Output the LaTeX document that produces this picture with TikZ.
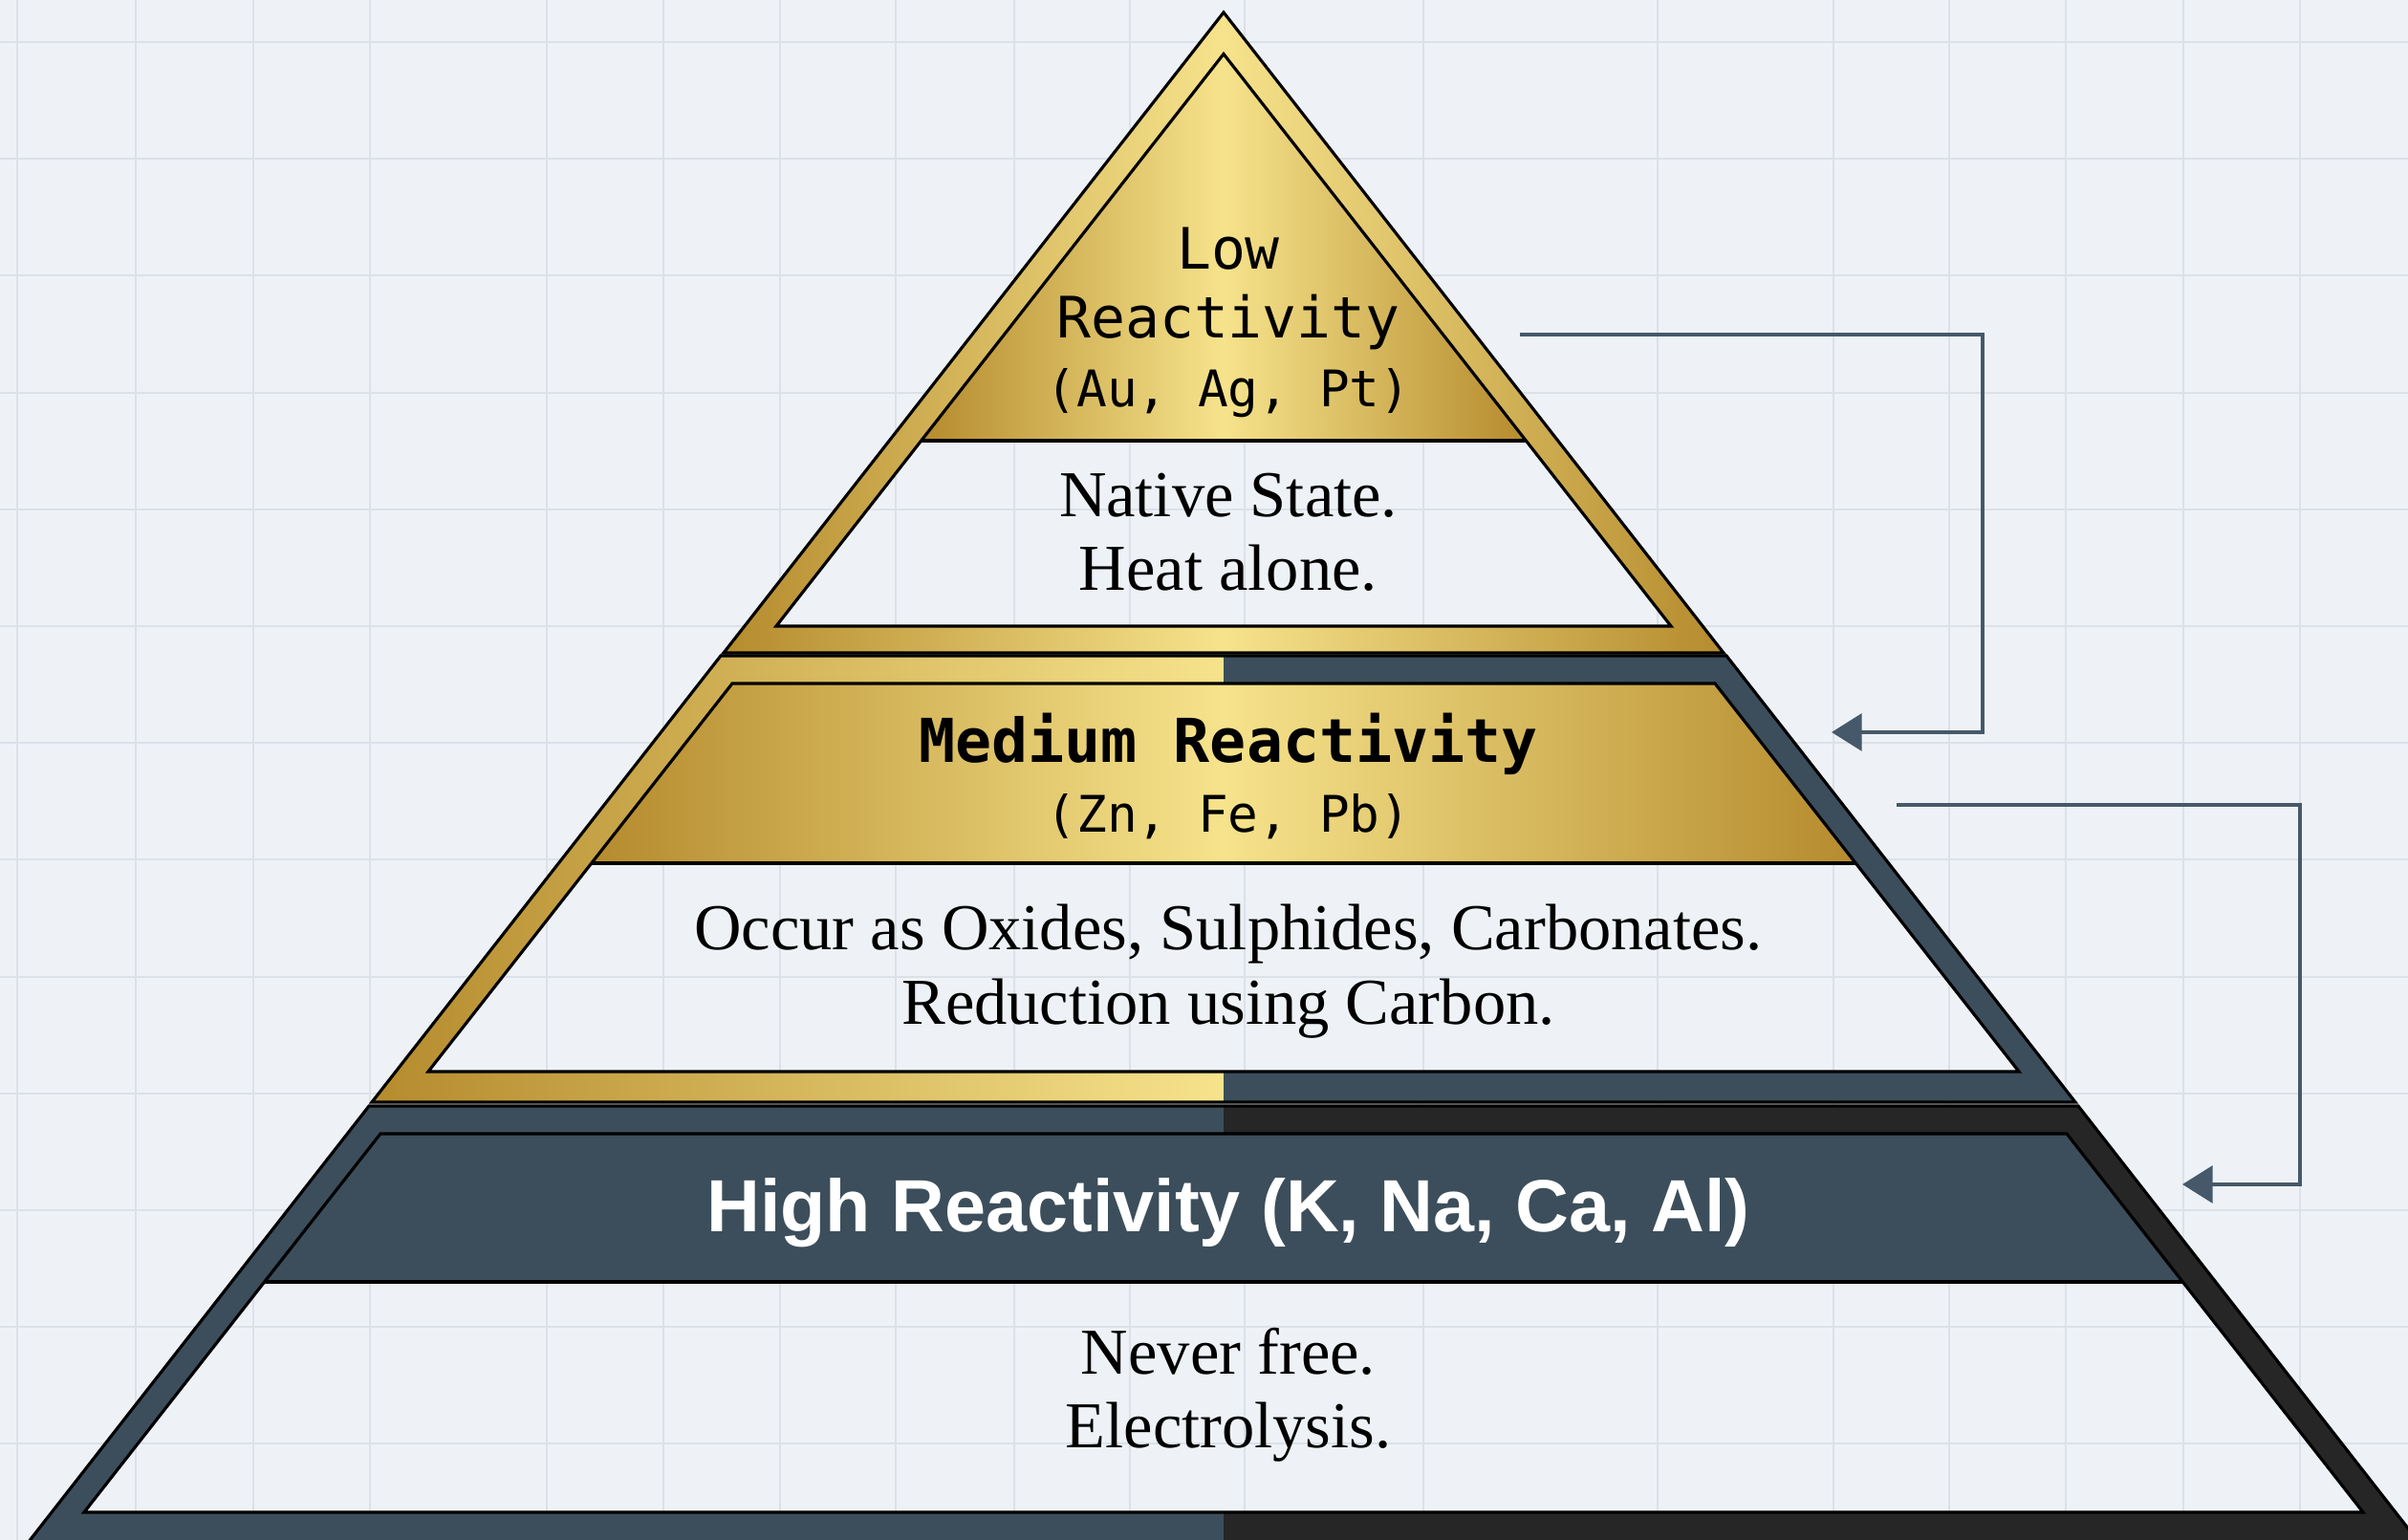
\documentclass[tikz,border=0pt]{standalone}
\usepackage{fontspec}
\setmainfont{Liberation Serif}
\setsansfont{Liberation Sans}
\setmonofont{DejaVu Sans Mono}
\usetikzlibrary{arrows.meta}

\definecolor{paper}{HTML}{EEF2F7}
\definecolor{gridline}{HTML}{DCE1E8}
\definecolor{golddark}{HTML}{B58B2D}
\definecolor{goldlight}{HTML}{F6E38C}
\definecolor{slate}{HTML}{3C4E5B}
\definecolor{coal}{HTML}{262626}
\definecolor{flowline}{HTML}{45596A}

\tikzset{
  tierline/.style={draw=black, line width=0.9pt, line join=miter},
  gold/.style={left color=golddark, right color=golddark, middle color=goldlight},
  monohead/.style={font=\ttfamily\fontsize{17}{20.5}\selectfont, align=center, text=black},
  serifbody/.style={font=\fontsize{19.5}{22}\selectfont, align=center, text=black},
  sanshead/.style={font=\sffamily\bfseries\fontsize{22}{26}\selectfont, text=white},
  flow/.style={-{Triangle[length=9pt,width=11pt]}, line width=1.2pt, flowline},
}

% tier outlines (outer edge and inner opening), slope 1.28
\newcommand{\lowouter}{(12.8,15.98) -- (18.03,9.28) -- (7.57,9.28) -- cycle}
\newcommand{\lowinner}{(12.8,15.545) -- (17.48,9.56) -- (8.12,9.56) -- cycle}
\newcommand{\midouter}{(7.54,9.25) -- (18.06,9.25) -- (21.71,4.58) -- (3.89,4.58) -- cycle}
\newcommand{\midinner}{(7.66,8.96) -- (17.94,8.96) -- (21.12,4.90) -- (4.48,4.90) -- cycle}
\newcommand{\highouter}{(3.86,4.54) -- (21.74,4.54) -- (25.52,-0.30) -- (0.08,-0.30) -- cycle}
\newcommand{\highinner}{(3.98,4.25) -- (21.62,4.25) -- (24.72,0.29) -- (0.88,0.29) -- cycle}

\begin{document}
\begin{tikzpicture}
  \useasboundingbox (0,0) rectangle (25.19,16.11);
  \clip (0,0) rectangle (25.19,16.11);

  % paper and grid
  \fill[paper] (0,0) rectangle (25.19,16.11);
  \foreach \gx in {0.18,1.42,2.65,3.87,5.72,6.94,8.16,9.37,10.61,11.82,13.02,14.89,17.34,19.18,20.39,21.61,22.84,24.06}
    \draw[gridline, line width=0.6pt] (\gx,0) -- (\gx,16.11);
  \foreach \k in {0,...,12}
    \draw[gridline, line width=0.6pt] (0,{15.67-1.222*\k}) -- (25.19,{15.67-1.222*\k});

  % low tier
  \fill[gold, even odd rule] \lowouter \lowinner;
  \fill[gold] (12.8,15.545) -- (15.96,11.50) -- (9.64,11.50) -- cycle;
  \draw[tierline] \lowouter;
  \draw[tierline] \lowinner;
  \draw[tierline] (9.64,11.50) -- (15.96,11.50);

  % medium tier, gold on the left and slate on the right
  \begin{scope}
    \clip (0,0) rectangle (12.8,16.11);
    \fill[gold, even odd rule] \midouter \midinner;
  \end{scope}
  \begin{scope}
    \clip (12.8,0) rectangle (25.19,16.11);
    \fill[slate, even odd rule] \midouter \midinner;
  \end{scope}
  \fill[gold] (7.66,8.96) -- (17.94,8.96) -- (19.41,7.08) -- (6.19,7.08) -- cycle;
  \draw[tierline] \midouter;
  \draw[tierline] \midinner;
  \draw[tierline] (6.19,7.08) -- (19.41,7.08);

  % high tier, slate on the left and coal on the right
  \begin{scope}
    \clip (0,0) rectangle (12.8,16.11);
    \fill[slate, even odd rule] \highouter \highinner;
  \end{scope}
  \begin{scope}
    \clip (12.8,0) rectangle (25.19,16.11);
    \fill[coal, even odd rule] \highouter \highinner;
  \end{scope}
  \fill[slate] (3.98,4.25) -- (21.62,4.25) -- (22.84,2.70) -- (2.76,2.70) -- cycle;
  \draw[tierline] \highouter;
  \draw[tierline] \highinner;
  \draw[tierline] (2.76,2.70) -- (22.84,2.70);

  % labels
  \node[monohead] (lowhead) at (12.85,12.74)
    {Low\\Reactivity\\{\fontsize{15}{20.5}\selectfont (Au, Ag, Pt)}};
  \node[serifbody] (lowbody) at (12.85,10.54) {Native State.\\Heat alone.};
  \node[monohead] (midhead) at (12.85,7.99)
    {{\bfseries\fontsize{18}{20.5}\selectfont Medium Reactivity}\\{\fontsize{15}{20.5}\selectfont (Zn, Fe, Pb)}};
  \node[serifbody] (midbody) at (12.85,5.95)
    {Occur as Oxides, Sulphides, Carbonates.\\Reduction using Carbon.};
  \node[sanshead] (highhead) at (12.85,3.42) {High Reactivity (K, Na, Ca, Al)};
  \node[serifbody] (highbody) at (12.85,1.52) {Never free.\\Electrolysis.};

  % step-down connectors
  \coordinate (lowout) at (15.90,12.61);
  \coordinate (lowturn) at (20.74,12.61);
  \coordinate (midin) at (19.16,8.45);
  \coordinate (midout) at (19.84,7.69);
  \coordinate (midturn) at (24.06,7.69);
  \coordinate (highin) at (22.83,3.72);
  \draw[flow] (lowout) -- (lowturn) |- (midin);
  \draw[flow] (midout) -- (midturn) |- (highin);
\end{tikzpicture}
\end{document}
